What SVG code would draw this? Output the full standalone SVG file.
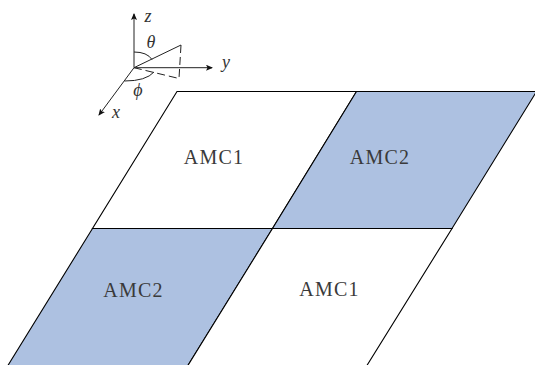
<svg xmlns="http://www.w3.org/2000/svg" width="535" height="365" viewBox="0 0 535 365">
<style>
.cell{stroke:#000;stroke-width:1.1;stroke-linejoin:miter}
.blue{fill:#adc1e1}
.white{fill:#fff}
.lab{font-family:"Liberation Serif",serif;font-size:20px;fill:#3a3a3a;text-anchor:middle;letter-spacing:1.2px}
.math{font-family:"Liberation Serif",serif;font-style:italic;font-size:18px;fill:#333;text-anchor:middle}
.ax{stroke:#222;stroke-width:1;fill:none}
</style>
<defs><marker id="a" markerWidth="8" markerHeight="8" refX="6" refY="3" orient="auto" markerUnits="userSpaceOnUse"><path d="M0 0L7 3L0 6L1.5 3Z" fill="#111"/></marker></defs>
<rect width="535" height="365" fill="#fff"/>
<g id="cell-tl"><path class="cell white" d="M177 91.5H356.5L272.5 228.5H92.5Z"/><text class="lab" x="214" y="164">AMC1</text></g>
<g id="cell-tr"><path class="cell blue" d="M356.5 91.5H536.5L452 228.5H272.5Z"/><text class="lab" x="380" y="164">AMC2</text></g>
<g id="cell-bl"><path class="cell blue" d="M92.5 228.5H272.5L184.5 371H4.5Z"/><text class="lab" x="133.500" y="297">AMC2</text></g>
<g id="cell-br"><path class="cell white" d="M272.5 228.5H452L363.500 371H184.500Z"/><text class="lab" x="329.500" y="296">AMC1</text></g>
<g id="connectors">
<path class="ax" marker-end="url(#a)" d="M134 67.700V14"/>
<path class="ax" marker-end="url(#a)" d="M134 67.700H212"/>
<path class="ax" marker-end="url(#a)" d="M134 67.700L99 115"/>
<path class="ax" d="M134 67.700L181 45"/>
<path class="ax" stroke-dasharray="8 4" d="M181 45L179 78.500L134 67.700"/>
<path class="ax" stroke-width=".8" d="M134 52Q147 52 152 59.500"/>
<path class="ax" stroke-width=".8" d="M124.500 81Q146 81 154 72"/>
</g>
<g id="labels">
<text class="math" x="148" y="22">z</text>
<text class="math" x="151" y="48">θ</text>
<text class="math" x="226" y="68">y</text>
<text class="math" x="138" y="96">ϕ</text>
<text class="math" x="116" y="118">x</text>
</g>
</svg>
